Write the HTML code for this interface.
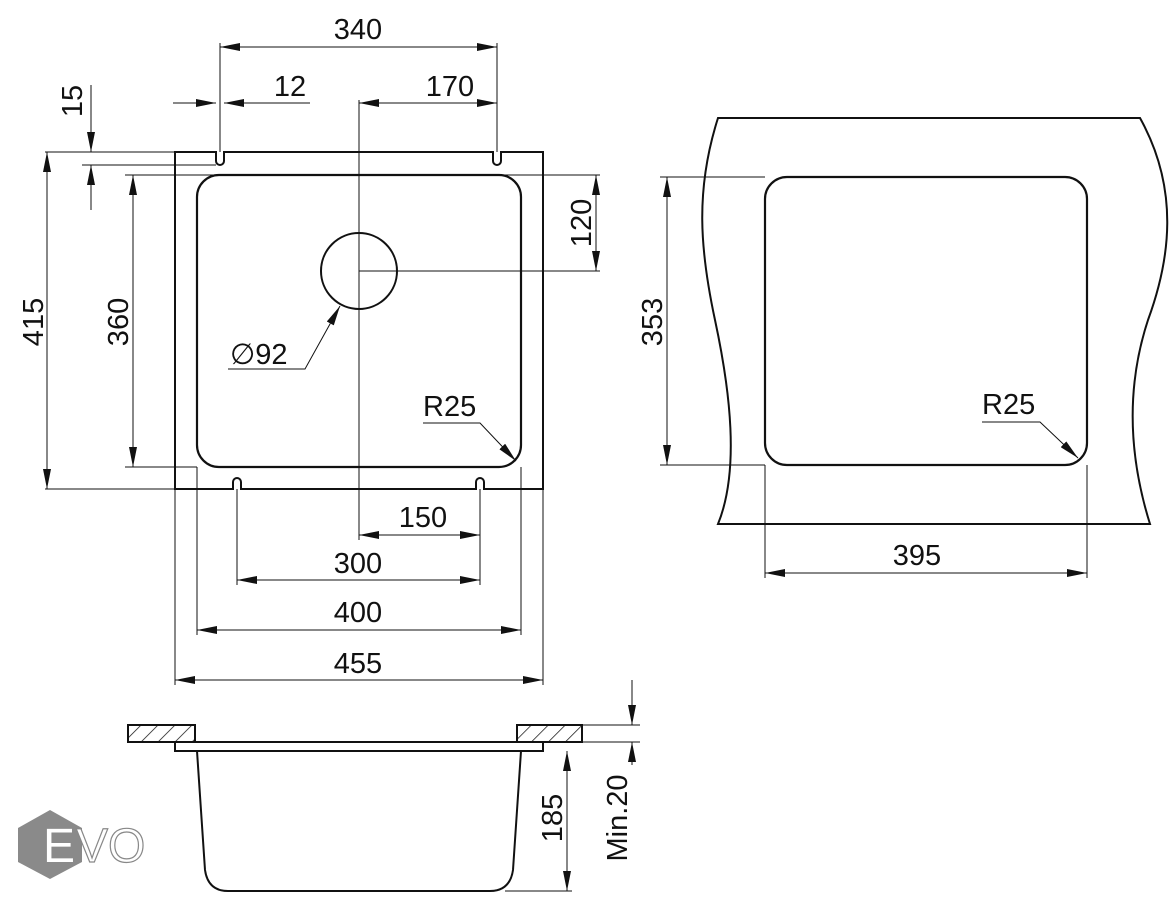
<!DOCTYPE html>
<html><head><meta charset="utf-8"><style>
html,body{margin:0;padding:0;background:#fff}
svg{display:block}
text{font-family:"Liberation Sans",sans-serif;font-size:29px;fill:#111}
</style></head><body>
<svg width="1175" height="900" viewBox="0 0 1175 900" xmlns="http://www.w3.org/2000/svg">
<defs>
<marker id="a" viewBox="0 0 20 8" refX="20" refY="4" markerWidth="20" markerHeight="8" markerUnits="userSpaceOnUse" orient="auto-start-reverse"><path d="M0,0 L20,4 L0,8 z" fill="#111"/></marker>
<pattern id="h" width="12" height="12" patternUnits="userSpaceOnUse" patternTransform="rotate(45)"><line x1="0" y1="0" x2="0" y2="12" stroke="#111" stroke-width="1.5"/></pattern>
</defs>
<g fill="none" stroke="#111">
<path stroke-width="2" d="M175,152 H216 V161 A4,4 0 0 0 224,161 V152 H493 V161 A4,4 0 0 0 501,161 V152 H543 V489 H484 V482 A4,4 0 0 0 476,482 V489 H241 V482 A4,4 0 0 0 233,482 V489 H175 Z"/>
<rect x="197" y="175" width="324" height="292" rx="22" stroke-width="2.2"/>
<circle cx="359" cy="271" r="38" stroke-width="2"/>
<g stroke-width="1">
<line x1="359" y1="100" x2="359" y2="540"/>
<line x1="220" y1="43" x2="220" y2="152"/><line x1="497" y1="43" x2="497" y2="152"/>
<line x1="45" y1="152" x2="175" y2="152"/><line x1="82" y1="165" x2="216" y2="165"/>
<line x1="125" y1="175" x2="600" y2="175"/><line x1="359" y1="271" x2="600" y2="271"/>
<line x1="125" y1="467" x2="197" y2="467"/><line x1="45" y1="489" x2="175" y2="489"/>
<line x1="237" y1="489" x2="237" y2="585"/>
<line x1="197" y1="467" x2="197" y2="635"/><line x1="521" y1="467" x2="521" y2="635"/>
<line x1="175" y1="489" x2="175" y2="685"/><line x1="543" y1="489" x2="543" y2="685"/>
<line x1="480" y1="489" x2="480" y2="585"/>
<line x1="220" y1="47" x2="497" y2="47" marker-start="url(#a)" marker-end="url(#a)"/>
<line x1="173" y1="103" x2="216" y2="103" marker-end="url(#a)"/>
<line x1="310" y1="103" x2="224" y2="103" marker-end="url(#a)"/>
<line x1="359" y1="103" x2="497" y2="103" marker-start="url(#a)" marker-end="url(#a)"/>
<line x1="91" y1="85" x2="91" y2="152" marker-end="url(#a)"/>
<line x1="91" y1="210" x2="91" y2="165" marker-end="url(#a)"/>
<line x1="47" y1="152" x2="47" y2="489" marker-start="url(#a)" marker-end="url(#a)"/>
<line x1="133" y1="175" x2="133" y2="467" marker-start="url(#a)" marker-end="url(#a)"/>
<line x1="596" y1="175" x2="596" y2="271" marker-start="url(#a)" marker-end="url(#a)"/>
<line x1="359" y1="535" x2="480" y2="535" marker-start="url(#a)" marker-end="url(#a)"/>
<line x1="237" y1="580" x2="480" y2="580" marker-start="url(#a)" marker-end="url(#a)"/>
<line x1="197" y1="630" x2="521" y2="630" marker-start="url(#a)" marker-end="url(#a)"/>
<line x1="175" y1="680" x2="543" y2="680" marker-start="url(#a)" marker-end="url(#a)"/>
<polyline points="228,369 305,369 340,306" marker-end="url(#a)"/>
<polyline points="423,423 480,423 516,461" marker-end="url(#a)"/>
</g>
<path stroke-width="2" d="M718,118 H1140 C1180,190 1170,260 1148,320 C1125,390 1130,460 1150,524 H718 C740,470 730,390 715,320 C700,250 695,190 718,118 Z"/>
<rect x="765" y="177" width="322" height="288" rx="22" stroke-width="2.2"/>
<g stroke-width="1">
<line x1="660" y1="177" x2="765" y2="177"/><line x1="660" y1="465" x2="765" y2="465"/>
<line x1="667" y1="177" x2="667" y2="465" marker-start="url(#a)" marker-end="url(#a)"/>
<line x1="765" y1="465" x2="765" y2="578"/><line x1="1087" y1="465" x2="1087" y2="578"/>
<line x1="765" y1="573" x2="1087" y2="573" marker-start="url(#a)" marker-end="url(#a)"/>
<polyline points="982,422 1040,422 1078,458" marker-end="url(#a)"/>
</g>
<path stroke-width="2" d="M197,751 L205,870 Q208,891 228,891 H490 Q510,891 513,870 L521,751"/>
<g stroke-width="1">
<line x1="582" y1="725" x2="640" y2="725"/><line x1="582" y1="742" x2="640" y2="742"/>
<line x1="505" y1="891" x2="572" y2="891"/>
<line x1="567" y1="751" x2="567" y2="891" marker-start="url(#a)" marker-end="url(#a)"/>
<line x1="632" y1="680" x2="632" y2="725" marker-end="url(#a)"/>
<line x1="632" y1="765" x2="632" y2="742" marker-end="url(#a)"/>
</g>
</g>
<rect x="175" y="742" width="368" height="9" fill="#fff" stroke="#111" stroke-width="2"/>
<rect x="128" y="725" width="67" height="17" fill="url(#h)" stroke="#111" stroke-width="2"/>
<rect x="517" y="725" width="65" height="17" fill="url(#h)" stroke="#111" stroke-width="2"/>
<text x="358" y="39" text-anchor="middle">340</text>
<text x="290" y="96" text-anchor="middle">12</text>
<text x="450" y="96" text-anchor="middle">170</text>
<text transform="translate(82,101) rotate(-90)" text-anchor="middle">15</text>
<text transform="translate(43,322) rotate(-90)" text-anchor="middle">415</text>
<text transform="translate(128,322) rotate(-90)" text-anchor="middle">360</text>
<text transform="translate(591,223) rotate(-90)" text-anchor="middle">120</text>
<text x="230" y="364">∅92</text>
<text x="423" y="416">R25</text>
<text x="423" y="527" text-anchor="middle">150</text>
<text x="358" y="573" text-anchor="middle">300</text>
<text x="358" y="622" text-anchor="middle">400</text>
<text x="358" y="673" text-anchor="middle">455</text>
<text transform="translate(662,322) rotate(-90)" text-anchor="middle">353</text>
<text x="982" y="414">R25</text>
<text x="917" y="565" text-anchor="middle">395</text>
<text transform="translate(562,818) rotate(-90)" text-anchor="middle">185</text>
<text transform="translate(627,818) rotate(-90)" text-anchor="middle">Min.20</text>
<polygon points="50,810 82,828 82,862 50,879 18,862 18,828" fill="#8a8a8a"/>
<text x="43" y="862" style="font-size:48px;fill:#fff">E</text>
<text x="76" y="862" style="font-size:48px;fill:#fff;stroke:#888;stroke-width:1.2">VO</text>
</svg>
</body></html>
